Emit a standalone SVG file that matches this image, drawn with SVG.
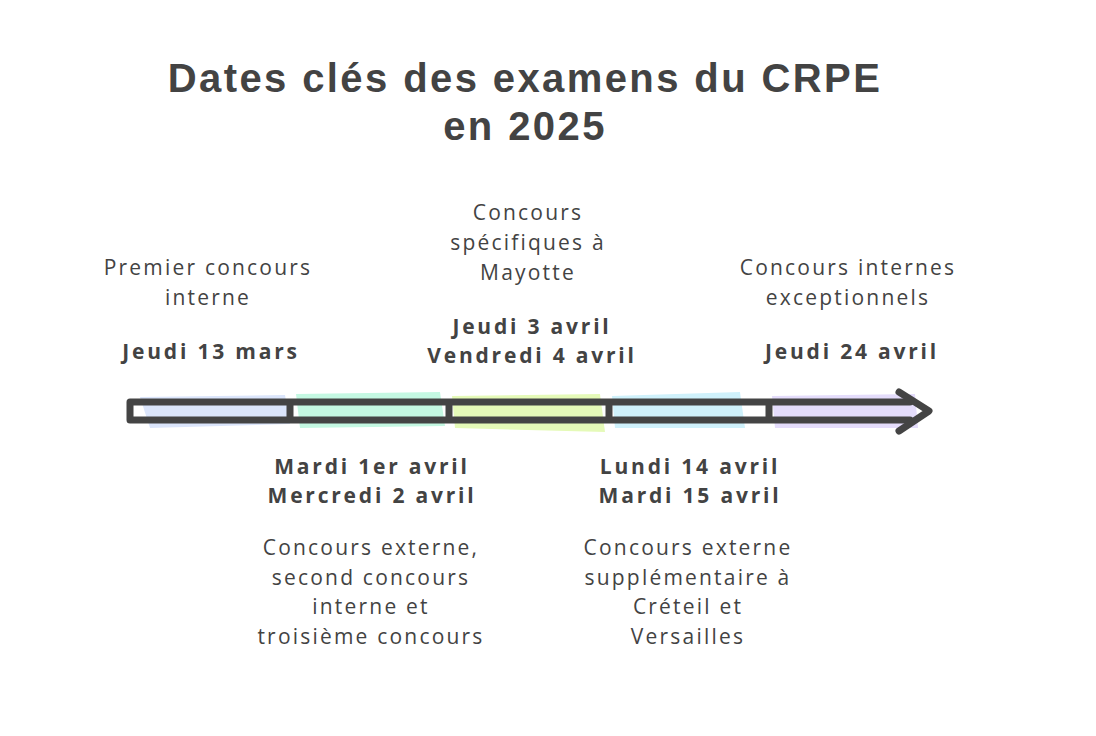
<svg xmlns="http://www.w3.org/2000/svg" width="1096" height="736" viewBox="0 0 1096 736">
<style>
text{font-family:"Open Sans","Noto Sans",sans-serif;fill:#434343;text-anchor:middle}
.t{font-family:"Liberation Sans",Arial,sans-serif;font-size:40px;font-weight:700;letter-spacing:2.4px}
.r{font-size:21px;letter-spacing:2.2px}
.b{font-size:21px;font-weight:700;letter-spacing:2.8px}
.bar{fill:none;stroke:#444;stroke-width:7;stroke-linejoin:round;stroke-linecap:round}
</style>
<rect width="1096" height="736" fill="#fff"/>
<g id="title">
<text class="t" x="525" y="92">Dates clés des examens du CRPE</text>
<text class="t" x="525" y="140">en 2025</text>
</g>
<g id="backgrounds">
<polygon points="140,397 285,395 290,424 150,428" fill="#dbe5fb"/>
<polygon points="296,394 440,392 445,426 300,428" fill="#c4f8e2"/>
<polygon points="452,396 600,394 605,432 455,428" fill="#e5fab8"/>
<polygon points="612,396 740,392 745,428 615,428" fill="#cff1fb"/>
<polygon points="772,396 915,394 918,428 775,428" fill="#e4dcfb"/>
</g>
<g id="connectors">
<path class="bar" d="M130,402 L910,402 M130,420 L910,420 M130,402 L130,420 M290,402 L290,420 M449,402 L449,420 M609,402 L609,420 M769,402 L769,420"/>
<path class="bar" d="M899,392 L929,411 L899,431"/>
</g>
<g id="n1">
<text class="r" x="208" y="275">Premier concours</text>
<text class="r" x="208" y="305">interne</text>
<text class="b" x="211" y="359">Jeudi 13 mars</text>
</g>
<g id="n2">
<text class="b" x="372" y="474">Mardi 1er avril</text>
<text class="b" x="372" y="503">Mercredi 2 avril</text>
<text class="r" x="371" y="555">Concours externe,</text>
<text class="r" x="371" y="585">second concours</text>
<text class="r" x="371" y="614">interne et</text>
<text class="r" x="371" y="644">troisième concours</text>
</g>
<g id="n3">
<text class="r" x="528" y="220">Concours</text>
<text class="r" x="528" y="250">spécifiques à</text>
<text class="r" x="528" y="280">Mayotte</text>
<text class="b" x="532" y="334">Jeudi 3 avril</text>
<text class="b" x="532" y="363">Vendredi 4 avril</text>
</g>
<g id="n4">
<text class="b" x="690" y="474">Lundi 14 avril</text>
<text class="b" x="690" y="503">Mardi 15 avril</text>
<text class="r" x="688" y="555">Concours externe</text>
<text class="r" x="688" y="585">supplémentaire à</text>
<text class="r" x="688" y="614">Créteil et</text>
<text class="r" x="688" y="644">Versailles</text>
</g>
<g id="n5">
<text class="r" x="848" y="275">Concours internes</text>
<text class="r" x="848" y="305">exceptionnels</text>
<text class="b" x="852" y="359">Jeudi 24 avril</text>
</g>
</svg>
